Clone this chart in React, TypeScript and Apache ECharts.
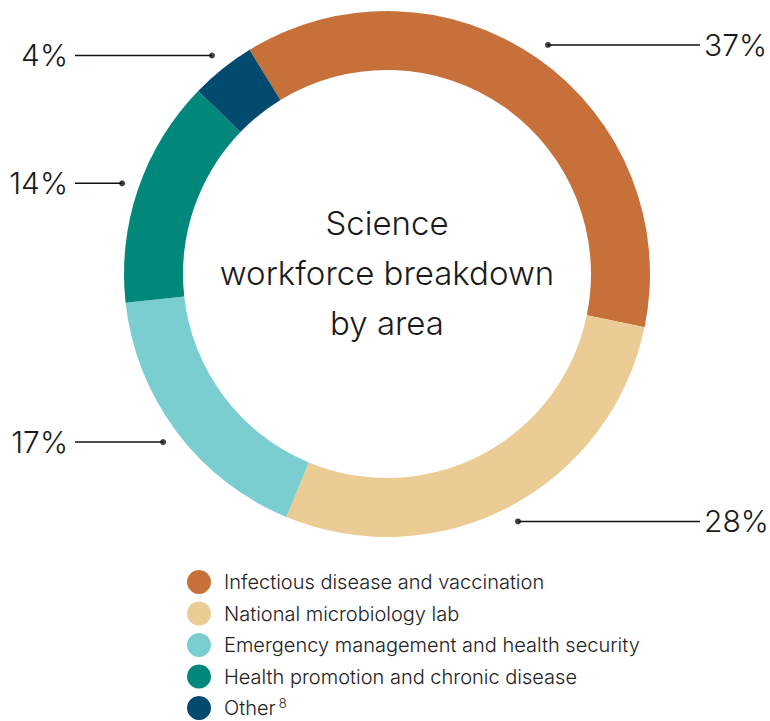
import React, { useEffect, useRef } from "react";
import * as echarts from "echarts";

const categories = [
  "Infectious disease and vaccination",
  "National microbiology lab",
  "Emergency management and health security",
  "Health promotion and chronic disease",
  "Other",
];
const values = [37, 28, 17, 14, 4];
const colors = ["#C8703A", "#EBCC94", "#7ACED0", "#02887A", "#034B6E"];
const centerTitle = "Science\nworkforce breakdown\nby area";

const CX = 387;
const CY = 274;
const DOT_R = 280;
const START_ANGLE = 121.5;

export default function App() {
  const ref = useRef<HTMLDivElement>(null);
  useEffect(() => {
    if (!ref.current) return;
    const chart = echarts.init(ref.current, null, { renderer: "svg" });
    const total = values.reduce((a, b) => a + b, 0);
    let acc = 0;
    const mids = values.map((v) => {
      const m = acc + v / 2;
      acc += v;
      return m;
    });
    chart.setOption({
      animation: false,
      backgroundColor: "#ffffff",
      title: {
        text: centerTitle,
        left: CX,
        top: CY - 76,
        textAlign: "center",
        padding: 0,
        textStyle: {
          fontFamily: "Inter",
          fontWeight: 300,
          fontSize: 33,
          lineHeight: 50,
          color: "#1a1a1a",
        },
      },
      legend: {
        orient: "vertical",
        left: 187,
        top: 570,
        height: 180,
        padding: 0,
        itemWidth: 24,
        itemHeight: 24,
        itemGap: 7.5,
        icon: "circle",
        selectedMode: false,
        data: categories,
        formatter: (name: string) => (name === "Other" ? "Other{sup|8}" : name),
        textStyle: {
          fontFamily: "Inter",
          fontWeight: 300,
          fontSize: 20,
          lineHeight: 20,
          color: "#222",
          padding: [0, 0, 0, 8],
          rich: {
            sup: {
              fontFamily: "Inter",
              fontSize: 13,
              lineHeight: 13,
              color: "#222",
              padding: [0, 0, 10, 3],
            },
          },
        },
      },
      polar: { center: [CX, CY], radius: DOT_R },
      angleAxis: {
        type: "value",
        min: 0,
        max: total,
        startAngle: START_ANGLE,
        clockwise: true,
        show: false,
      },
      radiusAxis: { type: "value", min: 0, max: 1, show: false },
      series: [
        {
          type: "pie",
          center: [CX, CY],
          radius: [204, 263],
          startAngle: START_ANGLE,
          clockwise: true,
          avoidLabelOverlap: false,
          emphasis: { disabled: true },
          data: categories.map((c, i) => ({
            name: c,
            value: values[i],
            itemStyle: { color: colors[i] },
          })),
          label: {
            show: true,
            position: "outside",
            formatter: "{c}%",
            fontFamily: "Inter",
            fontWeight: 300,
            fontSize: 30,
            color: "#1a1a1a",
          },
          labelLine: {
            show: true,
            length: 17,
            length2: 10,
            lineStyle: { color: "#111", width: 1.5 },
          },
          labelLayout: (params: any) => {
            const p0 = params.labelLinePoints
              ? params.labelLinePoints[0]
              : [params.rect.x, params.rect.y];
            const dx = p0[0] - CX;
            const dy = p0[1] - CY;
            const len = Math.hypot(dx, dy) || 1;
            const px = CX + (dx / len) * DOT_R;
            const py = CY + (dy / len) * DOT_R;
            const left = dx < 0;
            const endX = left ? 75 : 700;
            return {
              x: left ? 68 : 704,
              y: py,
              align: left ? "right" : "left",
              verticalAlign: "middle",
              labelLinePoints: [
                [px, py],
                [px, py],
                [endX, py],
              ],
            };
          },
        },
        {
          type: "scatter",
          coordinateSystem: "polar",
          symbol: "circle",
          symbolSize: 6,
          silent: true,
          itemStyle: { color: "#111" },
          data: mids.map((m) => [1, m]),
        },
      ],
    });
    return () => chart.dispose();
  }, []);
  return (
    <div
      ref={ref}
      style={{ position: "fixed", left: 0, top: 0, width: 770, height: 760 }}
    />
  );
}
